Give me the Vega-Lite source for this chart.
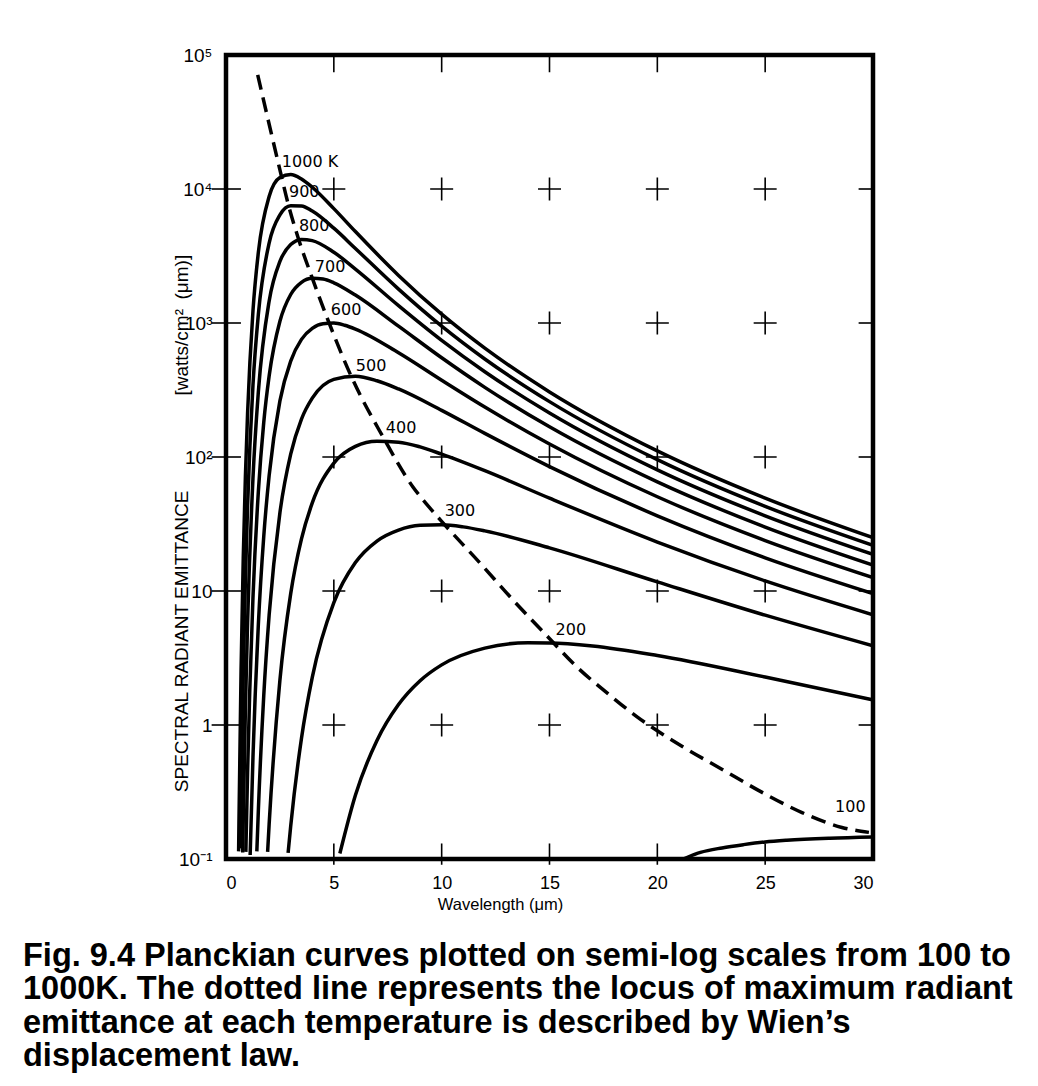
{
  "$schema": "https://vega.github.io/schema/vega-lite/v6.json",
  "width": 647,
  "height": 804,
  "autosize": {"type": "none"},
  "padding": {"left": 226, "top": 55, "right": 165, "bottom": 227},
  "background": "white",
  "config": {
    "view": {"stroke": "black", "strokeWidth": 4.5},
    "axis": {"domain": false, "ticks": false, "grid": false, "labelColor": "black", "titleColor": "black"}
  },
  "title": {
    "text": [
      "Fig. 9.4 Planckian curves plotted on semi-log scales from 100 to",
      "1000K. The dotted line represents the locus of maximum radiant",
      "emittance at each temperature is described by Wien’s",
      "displacement law."
    ],
    "orient": "bottom",
    "anchor": "start",
    "frame": "group",
    "dx": -203,
    "offset": 27,
    "font": "Liberation Sans",
    "fontWeight": "bold",
    "fontSize": 32.5,
    "lineHeight": 33.5,
    "color": "black"
  },
  "datasets": {
    "curves": [
      {"T": 1000, "wl": 0.585, "M": 0.114}, {"T": 1000, "wl": 0.6, "M": 0.185}, {"T": 1000, "wl": 0.7, "M": 2.64}, {"T": 1000, "wl": 0.8, "M": 17.6}, {"T": 1000, "wl": 0.9, "M": 72}, {"T": 1000, "wl": 1.0, "M": 211}, {"T": 1000, "wl": 1.25, "M": 1229}, {"T": 1000, "wl": 1.5, "M": 3365}, {"T": 1000, "wl": 2, "M": 8790}, {"T": 1000, "wl": 2.5, "M": 12170}, {"T": 1000, "wl": 3, "M": 12830}, {"T": 1000, "wl": 3.5, "M": 11876}, {"T": 1000, "wl": 4, "M": 10300}, {"T": 1000, "wl": 5, "M": 7140}, {"T": 1000, "wl": 6, "M": 4812}, {"T": 1000, "wl": 8, "M": 2266}, {"T": 1000, "wl": 10, "M": 1163}, {"T": 1000, "wl": 12, "M": 649}, {"T": 1000, "wl": 15, "M": 306}, {"T": 1000, "wl": 20, "M": 111}, {"T": 1000, "wl": 25, "M": 49.3}, {"T": 1000, "wl": 30, "M": 25.0},
      {"T": 900, "wl": 0.67, "M": 0.12}, {"T": 900, "wl": 0.7, "M": 0.268}, {"T": 900, "wl": 0.8, "M": 2.39}, {"T": 900, "wl": 0.9, "M": 12.2}, {"T": 900, "wl": 1.0, "M": 42.7}, {"T": 900, "wl": 1.25, "M": 342}, {"T": 900, "wl": 1.5, "M": 1158}, {"T": 900, "wl": 2, "M": 3950}, {"T": 900, "wl": 2.5, "M": 6410}, {"T": 900, "wl": 3, "M": 7505}, {"T": 900, "wl": 3.5, "M": 7475}, {"T": 900, "wl": 4, "M": 6840}, {"T": 900, "wl": 5, "M": 5100}, {"T": 900, "wl": 6, "M": 3600}, {"T": 900, "wl": 8, "M": 1791}, {"T": 900, "wl": 10, "M": 948}, {"T": 900, "wl": 12, "M": 539}, {"T": 900, "wl": 15, "M": 259}, {"T": 900, "wl": 20, "M": 95.5}, {"T": 900, "wl": 25, "M": 42.8}, {"T": 900, "wl": 30, "M": 21.9},
      {"T": 800, "wl": 0.775, "M": 0.112}, {"T": 800, "wl": 0.8, "M": 0.197}, {"T": 800, "wl": 0.9, "M": 1.33}, {"T": 800, "wl": 1.0, "M": 5.78}, {"T": 800, "wl": 1.25, "M": 69.2}, {"T": 800, "wl": 1.5, "M": 306}, {"T": 800, "wl": 2, "M": 1454}, {"T": 800, "wl": 2.5, "M": 2880}, {"T": 800, "wl": 3, "M": 3846}, {"T": 800, "wl": 3.5, "M": 4205}, {"T": 800, "wl": 4, "M": 4121}, {"T": 800, "wl": 5, "M": 3374}, {"T": 800, "wl": 6, "M": 2528}, {"T": 800, "wl": 8, "M": 1348}, {"T": 800, "wl": 10, "M": 742}, {"T": 800, "wl": 12, "M": 433}, {"T": 800, "wl": 15, "M": 213}, {"T": 800, "wl": 20, "M": 80.2}, {"T": 800, "wl": 25, "M": 36.4}, {"T": 800, "wl": 30, "M": 18.75},
      {"T": 700, "wl": 0.92, "M": 0.113}, {"T": 700, "wl": 1.0, "M": 0.443}, {"T": 700, "wl": 1.1, "M": 1.78}, {"T": 700, "wl": 1.25, "M": 8.86}, {"T": 700, "wl": 1.5, "M": 55.2}, {"T": 700, "wl": 1.75, "M": 181}, {"T": 700, "wl": 2, "M": 402}, {"T": 700, "wl": 2.5, "M": 1030}, {"T": 700, "wl": 3, "M": 1632}, {"T": 700, "wl": 3.5, "M": 2012}, {"T": 700, "wl": 4, "M": 2157}, {"T": 700, "wl": 4.5, "M": 2128}, {"T": 700, "wl": 5, "M": 1996}, {"T": 700, "wl": 6, "M": 1617}, {"T": 700, "wl": 8, "M": 947}, {"T": 700, "wl": 10, "M": 550}, {"T": 700, "wl": 12, "M": 331}, {"T": 700, "wl": 15, "M": 168}, {"T": 700, "wl": 20, "M": 65.2}, {"T": 700, "wl": 25, "M": 30.0}, {"T": 700, "wl": 30, "M": 15.6},
      {"T": 600, "wl": 1.12, "M": 0.107}, {"T": 600, "wl": 1.25, "M": 0.571}, {"T": 600, "wl": 1.5, "M": 5.62}, {"T": 600, "wl": 1.75, "M": 25.5}, {"T": 600, "wl": 2, "M": 72.6}, {"T": 600, "wl": 2.5, "M": 262}, {"T": 600, "wl": 3, "M": 520}, {"T": 600, "wl": 3.5, "M": 755}, {"T": 600, "wl": 4, "M": 912}, {"T": 600, "wl": 4.5, "M": 988}, {"T": 600, "wl": 5, "M": 998}, {"T": 600, "wl": 5.5, "M": 962}, {"T": 600, "wl": 6, "M": 901}, {"T": 600, "wl": 8, "M": 600}, {"T": 600, "wl": 10, "M": 374}, {"T": 600, "wl": 12, "M": 236}, {"T": 600, "wl": 15, "M": 125}, {"T": 600, "wl": 20, "M": 50.5}, {"T": 600, "wl": 25, "M": 23.8}, {"T": 600, "wl": 30, "M": 12.6},
      {"T": 500, "wl": 1.43, "M": 0.114}, {"T": 500, "wl": 1.5, "M": 0.23}, {"T": 500, "wl": 1.75, "M": 1.65}, {"T": 500, "wl": 2, "M": 6.6}, {"T": 500, "wl": 2.5, "M": 38.4}, {"T": 500, "wl": 3, "M": 105}, {"T": 500, "wl": 3.5, "M": 192}, {"T": 500, "wl": 4, "M": 275}, {"T": 500, "wl": 5, "M": 380}, {"T": 500, "wl": 6, "M": 401}, {"T": 500, "wl": 7, "M": 371}, {"T": 500, "wl": 8, "M": 322}, {"T": 500, "wl": 10, "M": 223}, {"T": 500, "wl": 12, "M": 150}, {"T": 500, "wl": 15, "M": 84.8}, {"T": 500, "wl": 20, "M": 36.4}, {"T": 500, "wl": 25, "M": 17.7}, {"T": 500, "wl": 30, "M": 9.57},
      {"T": 400, "wl": 1.93, "M": 0.113}, {"T": 400, "wl": 2, "M": 0.181}, {"T": 400, "wl": 2.5, "M": 2.16}, {"T": 400, "wl": 3, "M": 9.56}, {"T": 400, "wl": 3.5, "M": 24.5}, {"T": 400, "wl": 4, "M": 45.4}, {"T": 400, "wl": 5, "M": 90}, {"T": 400, "wl": 6, "M": 120}, {"T": 400, "wl": 7, "M": 131}, {"T": 400, "wl": 8, "M": 129}, {"T": 400, "wl": 9, "M": 119}, {"T": 400, "wl": 10, "M": 105}, {"T": 400, "wl": 12, "M": 79}, {"T": 400, "wl": 15, "M": 49.3}, {"T": 400, "wl": 20, "M": 23.2}, {"T": 400, "wl": 25, "M": 11.9}, {"T": 400, "wl": 30, "M": 6.65},
      {"T": 300, "wl": 2.88, "M": 0.111}, {"T": 300, "wl": 3, "M": 0.176}, {"T": 300, "wl": 3.5, "M": 0.798}, {"T": 300, "wl": 4, "M": 2.27}, {"T": 300, "wl": 5, "M": 8.18}, {"T": 300, "wl": 6, "M": 16.3}, {"T": 300, "wl": 7, "M": 23.6}, {"T": 300, "wl": 8, "M": 28.5}, {"T": 300, "wl": 9, "M": 30.9}, {"T": 300, "wl": 10, "M": 31.2}, {"T": 300, "wl": 11, "M": 30.1}, {"T": 300, "wl": 12, "M": 28.1}, {"T": 300, "wl": 15, "M": 21.0}, {"T": 300, "wl": 20, "M": 11.7}, {"T": 300, "wl": 25, "M": 6.6}, {"T": 300, "wl": 30, "M": 3.9},
      {"T": 200, "wl": 5.28, "M": 0.11}, {"T": 200, "wl": 6, "M": 0.299}, {"T": 200, "wl": 7, "M": 0.766}, {"T": 200, "wl": 8, "M": 1.42}, {"T": 200, "wl": 9, "M": 2.14}, {"T": 200, "wl": 10, "M": 2.81}, {"T": 200, "wl": 12, "M": 3.75}, {"T": 200, "wl": 14, "M": 4.11}, {"T": 200, "wl": 15, "M": 4.10}, {"T": 200, "wl": 17, "M": 3.89}, {"T": 200, "wl": 20, "M": 3.30}, {"T": 200, "wl": 25, "M": 2.28}, {"T": 200, "wl": 30, "M": 1.54},
      {"T": 100, "wl": 21.2, "M": 0.1}, {"T": 100, "wl": 22, "M": 0.112}, {"T": 100, "wl": 23, "M": 0.121}, {"T": 100, "wl": 24, "M": 0.128}, {"T": 100, "wl": 25, "M": 0.134}, {"T": 100, "wl": 26, "M": 0.138}, {"T": 100, "wl": 28, "M": 0.143}, {"T": 100, "wl": 30, "M": 0.146}
    ],
    "wien": [
      {"wl": 1.47, "M": 71000}, {"wl": 2.5, "M": 13900}, {"wl": 2.87, "M": 7870}, {"wl": 3.33, "M": 4400}, {"wl": 4.03, "M": 2100}, {"wl": 4.72, "M": 1060}, {"wl": 5.88, "M": 377}, {"wl": 7.27, "M": 142}, {"wl": 8.66, "M": 60}, {"wl": 9.44, "M": 41.9}, {"wl": 10.05, "M": 32.4}, {"wl": 11.76, "M": 16.3}, {"wl": 13.29, "M": 8.63}, {"wl": 14.91, "M": 4.57}, {"wl": 16.25, "M": 2.73}, {"wl": 17.64, "M": 1.75}, {"wl": 19.03, "M": 1.16}, {"wl": 21.16, "M": 0.691}, {"wl": 23.01, "M": 0.466}, {"wl": 24.86, "M": 0.314}, {"wl": 26.71, "M": 0.222}, {"wl": 28.56, "M": 0.172}, {"wl": 29.81, "M": 0.158}
    ],
    "marks": [
      {"kind": "cross", "wl": 5, "M": 10000}, {"kind": "cross", "wl": 10, "M": 10000}, {"kind": "cross", "wl": 15, "M": 10000}, {"kind": "cross", "wl": 20, "M": 10000}, {"kind": "cross", "wl": 25, "M": 10000},
      {"kind": "cross", "wl": 10, "M": 1000}, {"kind": "cross", "wl": 15, "M": 1000}, {"kind": "cross", "wl": 20, "M": 1000}, {"kind": "cross", "wl": 25, "M": 1000},
      {"kind": "cross", "wl": 5, "M": 100}, {"kind": "cross", "wl": 10, "M": 100}, {"kind": "cross", "wl": 15, "M": 100}, {"kind": "cross", "wl": 20, "M": 100}, {"kind": "cross", "wl": 25, "M": 100},
      {"kind": "cross", "wl": 5, "M": 10}, {"kind": "cross", "wl": 10, "M": 10}, {"kind": "cross", "wl": 15, "M": 10}, {"kind": "cross", "wl": 20, "M": 10}, {"kind": "cross", "wl": 25, "M": 10},
      {"kind": "cross", "wl": 5, "M": 1}, {"kind": "cross", "wl": 10, "M": 1}, {"kind": "cross", "wl": 15, "M": 1}, {"kind": "cross", "wl": 20, "M": 1}, {"kind": "cross", "wl": 25, "M": 1},
      {"kind": "left", "wl": 0, "M": 10000}, {"kind": "left", "wl": 0, "M": 1000}, {"kind": "left", "wl": 0, "M": 100}, {"kind": "left", "wl": 0, "M": 10}, {"kind": "left", "wl": 0, "M": 1},
      {"kind": "right", "wl": 30, "M": 10000}, {"kind": "right", "wl": 30, "M": 1000}, {"kind": "right", "wl": 30, "M": 100}, {"kind": "right", "wl": 30, "M": 10}, {"kind": "right", "wl": 30, "M": 1},
      {"kind": "top", "wl": 5, "M": 100000}, {"kind": "top", "wl": 10, "M": 100000}, {"kind": "top", "wl": 15, "M": 100000}, {"kind": "top", "wl": 20, "M": 100000}, {"kind": "top", "wl": 25, "M": 100000},
      {"kind": "bottom", "wl": 5, "M": 0.1}, {"kind": "bottom", "wl": 10, "M": 0.1}, {"kind": "bottom", "wl": 15, "M": 0.1}, {"kind": "bottom", "wl": 20, "M": 0.1}, {"kind": "bottom", "wl": 25, "M": 0.1}
    ],
    "labels": [
      {"label": "1000 K", "wl": 2.59, "M": 14660}, {"label": "900", "wl": 2.92, "M": 8770}, {"label": "800", "wl": 3.38, "M": 4890}, {"label": "700", "wl": 4.12, "M": 2420}, {"label": "600", "wl": 4.86, "M": 1140}, {"label": "500", "wl": 6.02, "M": 436}, {"label": "400", "wl": 7.41, "M": 151}, {"label": "300", "wl": 10.14, "M": 36.3}, {"label": "200", "wl": 15.28, "M": 4.72}, {"label": "100", "wl": 28.24, "M": 0.223}
    ]
  },
  "encoding": {
    "x": {
      "field": "wl", "type": "quantitative",
      "scale": {"domain": [0, 30], "nice": false, "zero": false},
      "axis": {
        "values": [0, 5, 10, 15, 20, 25, 30],
        "labelFont": "Liberation Sans", "labelFontSize": 18, "labelPadding": 15,
        "title": "Wavelength (μm)", "titleFont": "Liberation Sans", "titleFontSize": 16.5, "titleFontWeight": "normal",
        "titleX": 274, "titleY": 50, "titleAlign": "center", "titleBaseline": "alphabetic"
      }
    },
    "y": {
      "field": "M", "type": "quantitative",
      "scale": {"type": "log", "domain": [0.1, 100000], "nice": false},
      "axis": {
        "values": [0.1, 1, 10, 100, 1000, 10000, 100000],
        "labelExpr": "datum.value >= 99999 ? '10⁵' : datum.value >= 9999 ? '10⁴' : datum.value >= 999 ? '10³' : datum.value >= 99 ? '10²' : datum.value >= 9 ? '10' : datum.value >= 0.9 ? '1' : '10⁻¹'",
        "labelFont": "Liberation Sans", "labelFontSize": 19, "labelPadding": 14,
        "title": "SPECTRAL RADIANT EMITTANCE\u2003\u2003\u2003\u2003\u2003[watts/cm²\u2002(μm)]",
        "titleFont": "Liberation Sans", "titleFontSize": 19, "titleFontWeight": "normal",
        "titleX": -45, "titleY": 468, "titleAngle": -90, "titleAlign": "center", "titleBaseline": "middle"
      }
    }
  },
  "layer": [
    {
      "data": {"name": "curves"},
      "mark": {"type": "line", "interpolate": "monotone", "strokeWidth": 3.5, "color": "black", "clip": true},
      "encoding": {"detail": {"field": "T", "type": "nominal"}}
    },
    {
      "data": {"name": "wien"},
      "mark": {"type": "line", "interpolate": "monotone", "strokeWidth": 3.5, "strokeDash": [15, 8], "color": "black", "clip": true},
      "encoding": {}
    },
    {
      "data": {"name": "marks"},
      "mark": {"type": "point", "filled": false, "stroke": "black", "strokeWidth": 1.6, "size": 529, "opacity": 1},
      "encoding": {
        "shape": {
          "field": "kind", "type": "nominal",
          "scale": {"domain": ["cross", "left", "right", "top", "bottom"], "range": ["M-1,0H1M0,-1V1", "M-1.25,0H1.3", "M-1.25,0H0", "M0,0V1.5", "M0,-1.35V0.5"]},
          "legend": null
        }
      }
    },
    {
      "data": {"name": "labels"},
      "mark": {"type": "text", "align": "left", "baseline": "alphabetic", "font": "DejaVu Sans", "fontSize": 16, "color": "black"},
      "encoding": {"text": {"field": "label", "type": "nominal"}}
    }
  ]
}
